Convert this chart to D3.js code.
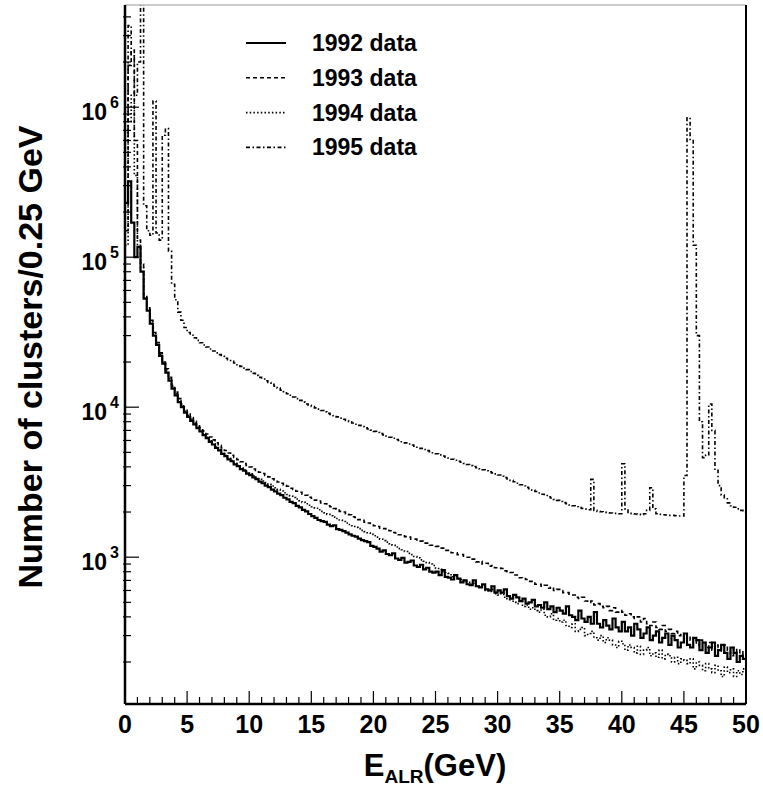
<!DOCTYPE html>
<html>
<head>
<meta charset="utf-8">
<script src="https://cdn.jsdelivr.net/npm/d3@7"></script>
<style>
body { margin: 0; background: #fff; }
text { font-family: "Liberation Sans", Arial, Helvetica, sans-serif; font-weight: bold; fill: #000; }
</style>
</head>
<body>
<svg id="chart"></svg>
<script>
const width = 763;
const height = 786;
const binWidth = 0.25; // GeV per bin, 200 bins from 0 to 50

const seriesNames = ["1992 data", "1993 data", "1994 data", "1995 data"];
const xTickValues = [0, 5, 10, 15, 20, 25, 30, 35, 40, 45, 50];

// counts per 0.25 GeV bin, one row = 5 GeV
const counts1992 = [
  230000, 320000, 170000, 100000, 117000, 80000, 53000, 44000, 36000, 30000, 26000, 22000, 19500, 17000, 15000, 13300, 12000, 10800, 10000, 9200,
  8600, 8100, 7690, 7240, 6890, 6510, 6220, 5880, 5640, 5350, 5150, 4890, 4720, 4490, 4360, 4150, 4040, 3860, 3770, 3610,
  3520, 3400, 3310, 3190, 3110, 3000, 2930, 2820, 2750, 2650, 2590, 2490, 2430, 2340, 2290, 2200, 2150, 2070, 2020, 1940,
  1880, 1830, 1770, 1740, 1720, 1650, 1610, 1630, 1540, 1520, 1490, 1460, 1420, 1390, 1370, 1330, 1300, 1280, 1260, 1190,
  1170, 1140, 1090, 1110, 1050, 1030, 1060, 980, 960, 990, 920, 930, 950, 880, 860, 890, 830, 850, 800, 790,
  800, 760, 820, 740, 730, 710, 760, 720, 680, 700, 660, 650, 700, 640, 630, 660, 610, 600, 640, 580,
  600, 580, 610, 550, 530, 560, 540, 510, 530, 490, 500, 520, 470, 480, 460, 500, 450, 470, 430, 460,
  440, 420, 470, 410, 400, 380, 440, 390, 370, 400, 360, 430, 360, 340, 380, 350, 330, 390, 340, 320,
  370, 320, 340, 300, 360, 330, 290, 310, 340, 280, 300, 320, 270, 290, 310, 260, 300, 280, 250, 270,
  310, 260, 250, 290, 280, 240, 270, 230, 250, 270, 220, 240, 260, 230, 210, 250, 230, 200, 220, 210
];

const counts1993 = [
  150000, 1900000, 2400000, 600000, 130000, 90000, 56000, 46000, 38000, 31500, 27000, 23000, 20500, 18000, 15800, 14000, 12600, 11400, 10500, 9700,
  9000, 8520, 8070, 7670, 7290, 6940, 6620, 6320, 6050, 5790, 5560, 5340, 5140, 4950, 4780, 4620, 4470, 4330, 4210, 4090,
  3990, 3870, 3790, 3680, 3610, 3500, 3430, 3330, 3270, 3170, 3110, 3020, 2970, 2880, 2830, 2750, 2710, 2630, 2590, 2510,
  2470, 2400, 2370, 2300, 2270, 2200, 2170, 2110, 2090, 2020, 2000, 1940, 1920, 1860, 1840, 1780, 1760, 1710, 1690, 1640,
  1620, 1600, 1560, 1550, 1510, 1500, 1460, 1450, 1410, 1410, 1370, 1360, 1320, 1320, 1280, 1280, 1240, 1240, 1200, 1200,
  1180, 1150, 1150, 1110, 1110, 1070, 1070, 1040, 1040, 1000, 1000, 970, 970, 930, 940, 900, 910, 870, 880, 850,
  850, 840, 810, 800, 790, 760, 760, 730, 720, 710, 690, 690, 660, 660, 640, 650, 620, 630, 600, 610,
  600, 580, 580, 560, 560, 540, 530, 540, 510, 500, 510, 480, 490, 470, 460, 470, 440, 460, 430, 440,
  430, 410, 420, 400, 390, 400, 370, 390, 360, 350, 370, 340, 330, 350, 320, 330, 310, 320, 300, 310,
  290, 300, 280, 290, 260, 280, 270, 250, 270, 240, 260, 250, 230, 260, 240, 220, 250, 230, 240, 220
];

const counts1994 = [
  120000, 800000, 1200000, 350000, 120000, 85000, 54000, 45000, 37000, 31000, 26500, 22500, 20000, 17500, 15500, 13700, 12300, 11100, 10200, 9400,
  8800, 8290, 7820, 7390, 6990, 6630, 6290, 5980, 5700, 5430, 5190, 4970, 4760, 4570, 4400, 4230, 4080, 3950, 3820, 3700,
  3590, 3490, 3400, 3310, 3220, 3140, 3060, 2980, 2900, 2830, 2760, 2690, 2620, 2560, 2500, 2440, 2380, 2320, 2270, 2220,
  2170, 2120, 2070, 2020, 1980, 1930, 1890, 1850, 1810, 1770, 1730, 1690, 1650, 1620, 1580, 1550, 1510, 1480, 1450, 1420,
  1390, 1360, 1320, 1290, 1260, 1230, 1200, 1170, 1140, 1120, 1090, 1060, 1040, 1010, 990, 960, 940, 920, 900, 880,
  840, 830, 800, 790, 780, 740, 760, 720, 710, 700, 690, 660, 670, 640, 630, 650, 600, 590, 610, 570,
  560, 570, 540, 520, 530, 500, 490, 510, 470, 480, 450, 460, 440, 430, 450, 410, 400, 420, 380, 390,
  370, 380, 350, 340, 360, 320, 330, 340, 300, 310, 320, 290, 280, 300, 270, 290, 280, 260, 250, 275,
  265, 240, 260, 250, 230, 255, 225, 240, 250, 220, 230, 215, 240, 210, 225, 220, 200, 215, 195, 210,
  205, 195, 210, 180, 200, 190, 175, 195, 180, 170, 190, 175, 160, 185, 170, 180, 160, 175, 165, 180
];

const counts1995 = [
  600000, 3500000, 2200000, 1200000, 2000000, 6000000, 220000, 150000, 140000, 1100000, 145000, 130000, 650000, 720000, 110000, 66000, 52000, 43000, 38000, 34000,
  31500, 30200, 29000, 27900, 26900, 26000, 25200, 24400, 23700, 23000, 22400, 21800, 21200, 20700, 20200, 19700, 19200, 18700, 18200, 17800,
  17300, 16800, 16300, 15800, 15400, 15000, 14600, 14200, 13800, 13400, 13000, 12700, 12300, 12000, 11700, 11400, 11100, 10800, 10500, 10300,
  10100, 9900, 9700, 9500, 9300, 9100, 8950, 8780, 8620, 8460, 8300, 8150, 8000, 7850, 7700, 7560, 7420, 7290, 7160, 7030,
  6900, 6780, 6660, 6540, 6420, 6310, 6200, 6090, 5990, 5880, 5780, 5680, 5590, 5490, 5400, 5310, 5220, 5130, 5050, 4970,
  4890, 4810, 4730, 4650, 4580, 4500, 4430, 4360, 4290, 4220, 4150, 4080, 4020, 3950, 3890, 3830, 3770, 3710, 3650, 3590,
  3530, 3460, 3390, 3320, 3250, 3180, 3110, 3040, 2980, 2920, 2860, 2800, 2740, 2680, 2630, 2580, 2530, 2480, 2430, 2390,
  2350, 2310, 2270, 2230, 2200, 2170, 2140, 2110, 2090, 2070, 3300, 2050, 2020, 2010, 1990, 1980, 1970, 1960, 1960, 1950,
  4200, 2100, 1960, 1950, 1940, 1930, 1920, 1950, 2050, 2900, 2100, 1950, 1930, 1920, 1910, 1900, 1900, 1890, 1880, 1880,
  3500, 850000, 600000, 120000, 30000, 8000, 4600, 4800, 10500, 7000, 3800, 3000, 2600, 2450, 2300, 2200, 2150, 2100, 2050, 2000
];

const allCounts = [counts1992, counts1993, counts1994, counts1995];
const dashes = [null, "4,3", "1.5,2.2", "4,2.5,1.5,2.5"];
const strokeWidths = [2.2, 1.6, 1.6, 1.6];

const plot = {left: 125, right: 746, top: 5, bottom: 704};

const svg = d3.select("#chart")
    .attr("width", width)
    .attr("height", height);

const x = d3.scaleLinear().domain([0, 50]).range([plot.left, plot.right]);
const y = d3.scaleLog().domain([105, 4.8e6]).range([plot.bottom, plot.top]);

svg.append("clipPath").attr("id", "clip")
    .append("rect")
    .attr("x", plot.left).attr("y", plot.top)
    .attr("width", plot.right - plot.left).attr("height", plot.bottom - plot.top);

// histograms as steps
const line = d3.line()
    .x(d => x(d[0]))
    .y(d => y(d[1]))
    .curve(d3.curveStepAfter);

function histPoints(values) {
    const pts = values.map((v, i) => [i * binWidth, v]);
    pts.push([values.length * binWidth, values[values.length - 1]]);
    return pts;
}

const hists = svg.append("g").attr("clip-path", "url(#clip)");
allCounts.forEach((vals, i) => {
    hists.append("path")
        .attr("d", line(histPoints(vals)))
        .attr("fill", "none")
        .attr("stroke", "#000")
        .attr("stroke-width", strokeWidths[i])
        .attr("stroke-dasharray", dashes[i]);
});

// frame
svg.append("line").attr("x1", plot.left).attr("x2", plot.right).attr("y1", plot.top).attr("y2", plot.top)
    .attr("stroke", "#999").attr("stroke-width", 1);
svg.append("line").attr("x1", plot.right).attr("x2", plot.right).attr("y1", plot.top).attr("y2", plot.bottom)
    .attr("stroke", "#000").attr("stroke-width", 2);
svg.append("line").attr("x1", plot.left).attr("x2", plot.left).attr("y1", plot.top).attr("y2", plot.bottom)
    .attr("stroke", "#000").attr("stroke-width", 2.5);
svg.append("line").attr("x1", plot.left).attr("x2", plot.right).attr("y1", plot.bottom).attr("y2", plot.bottom)
    .attr("stroke", "#000").attr("stroke-width", 2.5);

// x ticks
const xAxis = svg.append("g");
d3.range(0, 51, 1).forEach(v => {
    const major = v % 5 === 0;
    xAxis.append("line")
        .attr("x1", x(v)).attr("x2", x(v))
        .attr("y1", plot.bottom).attr("y2", plot.bottom - (major ? 13 : 7))
        .attr("stroke", "#000").attr("stroke-width", 1.2);
});
xAxis.selectAll("text.xtick")
    .data(xTickValues)
    .enter().append("text")
    .attr("class", "xtick")
    .attr("x", d => x(d))
    .attr("y", plot.bottom + 29)
    .attr("text-anchor", "middle")
    .style("font-size", "25px")
    .text(d => d);

// y ticks
const yAxis = svg.append("g");
y.ticks().forEach(v => {
    const decade = Math.abs(Math.log10(v) - Math.round(Math.log10(v))) < 1e-9;
    yAxis.append("line")
        .attr("x1", plot.left - (decade ? 0 : 2)).attr("x2", plot.left + (decade ? 14 : 6))
        .attr("y1", y(v)).attr("y2", y(v))
        .attr("stroke", "#000").attr("stroke-width", 1.2);
    if (decade) {
        yAxis.append("text")
            .attr("x", plot.left - 18)
            .attr("y", y(v) + 13)
            .attr("text-anchor", "end")
            .style("font-size", "23px")
            .text("10");
        yAxis.append("text")
            .attr("x", plot.left - 15)
            .attr("y", y(v) + 1)
            .style("font-size", "16px")
            .text(Math.round(Math.log10(v)));
    }
});

// axis titles
const xt = svg.append("text")
    .attr("x", 435)
    .attr("y", 776)
    .attr("text-anchor", "middle")
    .style("font-size", "31px");
xt.append("tspan").text("E");
xt.append("tspan").attr("dy", 7).style("font-size", "19px").text("ALR");
xt.append("tspan").attr("dy", -7).text("(GeV)");

svg.append("text")
    .attr("transform", "translate(42,357) rotate(-90)")
    .attr("text-anchor", "middle")
    .style("font-size", "34px")
    .text("Number of clusters/0.25 GeV");

// legend
const legend = svg.append("g");
seriesNames.forEach((name, i) => {
    const ly = 43 + i * 34.8;
    legend.append("line")
        .attr("x1", 246).attr("x2", 286)
        .attr("y1", ly).attr("y2", ly)
        .attr("stroke", "#000")
        .attr("stroke-width", strokeWidths[i])
        .attr("stroke-dasharray", dashes[i]);
    legend.append("text")
        .attr("x", 312)
        .attr("y", ly + 8)
        .style("font-size", "23px")
        .text(name);
});
</script>
</body>
</html>
